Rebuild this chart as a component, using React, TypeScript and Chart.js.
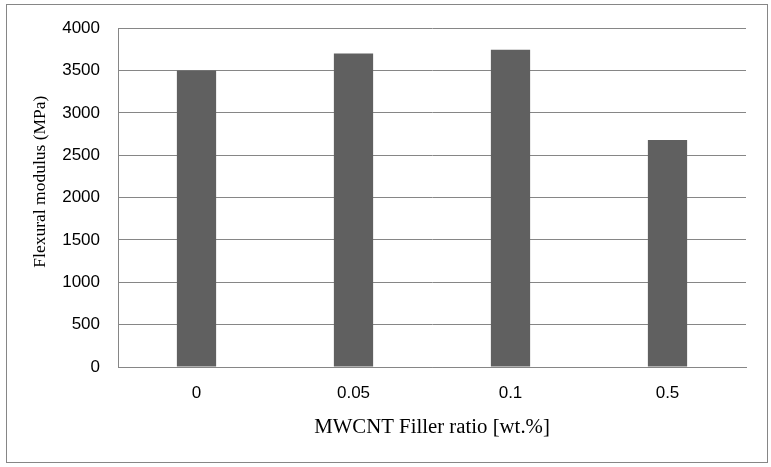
import React, { useEffect, useRef } from 'react';
import Chart from 'chart.js/auto';

const fillerRatios = ['0', '0.05', '0.1', '0.5'];
const flexuralModulus = [3500, 3700, 3745, 2680];
const yTickStep = 500;
const yMax = 4000;
const yTitle = 'Flexural modulus (MPa)';
const xTitle = 'MWCNT Filler ratio [wt.%]';

const gridGray = '#868686';
const barGray = '#606060';
const serif = '"Liberation Serif", "Times New Roman", serif';
const sans = '"Liberation Sans", Arial, sans-serif';

// y title sits a bit above the plot's middle in the original, so draw it by hand
const yTitlePlugin = {
  id: 'yTitle',
  afterDraw(chart: any) {
    const { ctx, chartArea } = chart;
    ctx.save();
    ctx.translate(40, (chartArea.top + chartArea.bottom) / 2 - 16);
    ctx.rotate(-Math.PI / 2);
    ctx.fillStyle = '#000';
    ctx.font = `17.5px ${serif}`;
    ctx.textAlign = 'center';
    ctx.textBaseline = 'middle';
    ctx.fillText(yTitle, 0, 0);
    ctx.restore();
  },
};

export default function App() {
  const canvasRef = useRef<HTMLCanvasElement>(null);
  const chartRef = useRef<Chart | null>(null);

  useEffect(() => {
    if (!canvasRef.current) return;
    const ctx = canvasRef.current.getContext('2d');
    if (!ctx) return;

    if (chartRef.current) {
      chartRef.current.destroy();
    }

    chartRef.current = new Chart(ctx, {
      type: 'bar',
      data: {
        labels: fillerRatios,
        datasets: [
          {
            label: 'Flexural modulus',
            data: flexuralModulus,
            backgroundColor: barGray,
            borderWidth: 0,
            barPercentage: 0.25,
            categoryPercentage: 1,
          },
        ],
      },
      options: {
        responsive: false,
        animation: false,
        layout: {
          padding: { left: 0, top: 23, right: 25, bottom: 0 },
        },
        plugins: {
          legend: { display: false },
          tooltip: { enabled: false },
        },
        scales: {
          x: {
            grid: { display: false, drawTicks: false },
            border: { display: true, color: gridGray, width: 1 },
            ticks: {
              color: '#000',
              padding: 16,
              font: { family: sans, size: 17 },
            },
            title: {
              display: true,
              text: xTitle,
              color: '#000',
              padding: { top: 0, bottom: 27 },
              font: { family: serif, size: 20.8 },
            },
            afterFit: (scale: any) => {
              scale.height = 100;
            },
          },
          y: {
            min: 0,
            max: yMax,
            grid: { color: gridGray, lineWidth: 1, drawTicks: false },
            border: { display: true, color: gridGray, width: 1 },
            ticks: {
              stepSize: yTickStep,
              color: '#000',
              padding: 18,
              font: { family: sans, size: 17 },
              callback: (value: any) => String(value),
            },
            afterFit: (scale: any) => {
              scale.width = 118;
            },
          },
        },
      },
      plugins: [yTitlePlugin],
    });

    return () => {
      if (chartRef.current) {
        chartRef.current.destroy();
        chartRef.current = null;
      }
    };
  }, []);

  return (
    <div style={{ position: 'fixed', left: 0, top: 0, width: 771, height: 467, background: '#fff' }}>
      <div
        style={{
          position: 'absolute',
          left: 6,
          top: 4,
          width: 760,
          height: 457,
          border: `1px solid ${gridGray}`,
        }}
      />
      <canvas
        ref={canvasRef}
        width={771}
        height={467}
        style={{ position: 'absolute', left: 0, top: 0, width: 771, height: 467 }}
      />
    </div>
  );
}
